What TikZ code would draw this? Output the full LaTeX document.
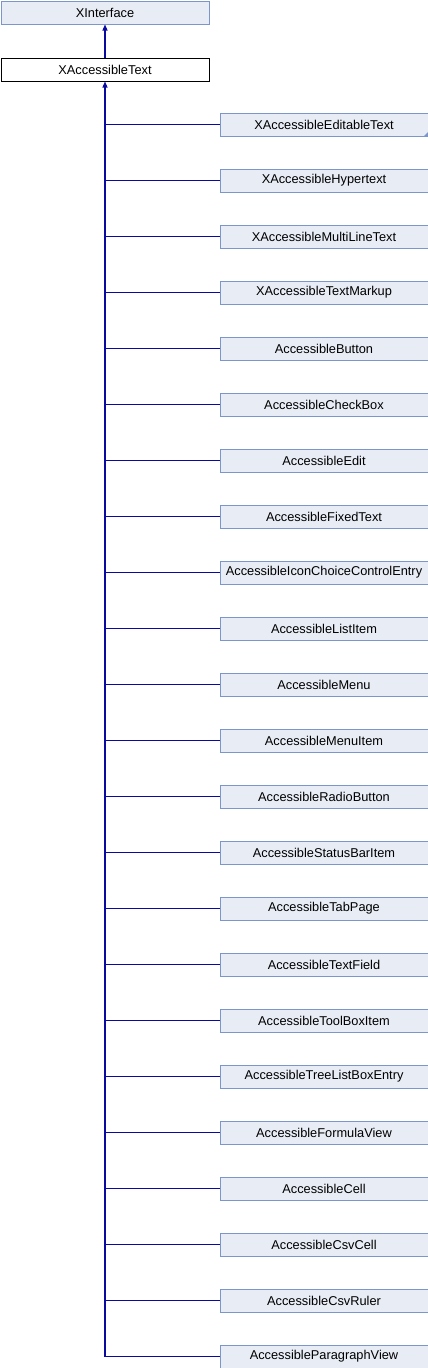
\documentclass[tikz,border=0pt]{standalone}
\usepackage{fontspec}
\setmainfont{Liberation Sans}
\usetikzlibrary{arrows.meta}
\definecolor{boxfill}{RGB}{232,236,245}
\definecolor{boxdraw}{RGB}{124,150,204}
\definecolor{edge}{RGB}{10,10,160}
\begin{document}
\begin{tikzpicture}[x=1pt,y=-1pt,
  cls/.style={draw=boxdraw,fill=boxfill,line width=1pt,minimum width=208pt,minimum height=23pt,inner sep=0pt,font=\fontsize{12.8}{14}\selectfont,anchor=north west},
  cur/.style={cls,draw=black,fill=white},
  link/.style={draw=edge,line width=1.1pt},
  inh/.style={link,-{Triangle[length=6pt,width=5pt]}}]
\useasboundingbox (0,0) rectangle (428,1368);
\node[cls] (xi) at (0.5,0.5) {XInterface};
\node[cur] (xat) at (0.5,57.5) {XAccessibleText};
\draw[inh] (xat.north) -- (xi.south);
\foreach \name [count=\i from 0] in {XAccessibleEditableText,XAccessibleHypertext,XAccessibleMultiLineText,XAccessibleTextMarkup,AccessibleButton,AccessibleCheckBox,AccessibleEdit,AccessibleFixedText,AccessibleIconChoiceControlEntry,AccessibleListItem,AccessibleMenu,AccessibleMenuItem,AccessibleRadioButton,AccessibleStatusBarItem,AccessibleTabPage,AccessibleTextField,AccessibleToolBoxItem,AccessibleTreeListBoxEntry,AccessibleFormulaView,AccessibleCell,AccessibleCsvCell,AccessibleCsvRuler,AccessibleParagraphView}{
  \node[cls] (c\i) at (219.5,{112.5+56*\i}) {\name};
  \coordinate (j\i) at (xat.south |- c\i.west);
  \draw[link] (c\i.west) -- (j\i);
}
\draw[inh] (j22) -- (xat.south);
\fill[boxdraw] (c0.south east) -- ++(-5,0) -- ++(5,-5) -- cycle;
\end{tikzpicture}
\end{document}
